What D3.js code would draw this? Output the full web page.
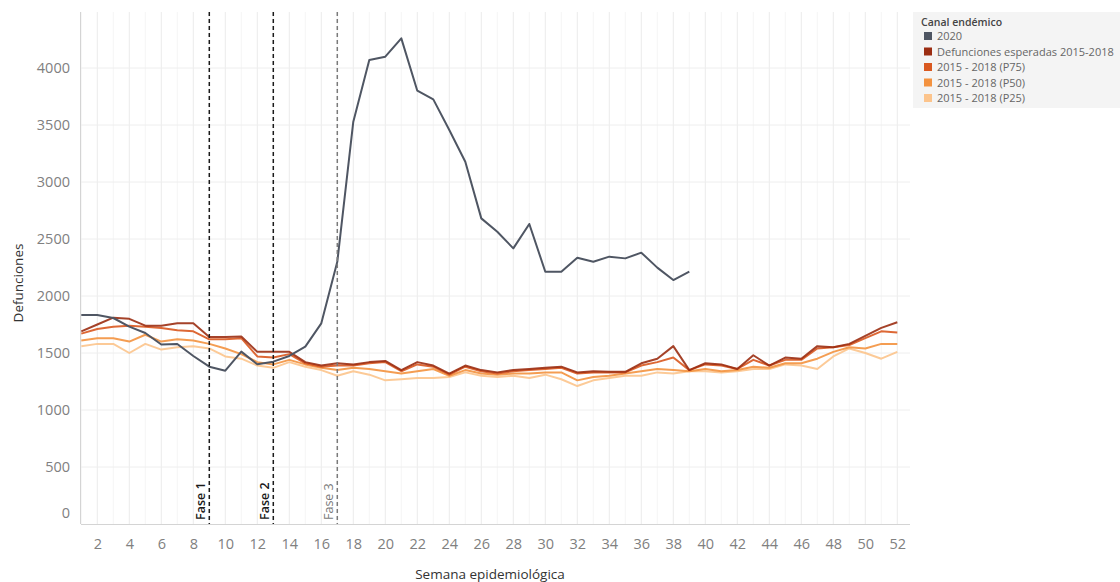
<!DOCTYPE html>
<html>
<head>
<meta charset="utf-8">
<script src="https://cdn.jsdelivr.net/npm/d3@7"></script>
<style>
  body { margin: 0; background: #fff; }
  svg { font-family: "Open Sans", "Noto Sans", sans-serif; }
  .grid-lines line { stroke: #eeeeee; stroke-width: 1; }
</style>
</head>
<body>
<div id="chart"></div>
<script>
// weeks 1..52
const weeks = d3.range(1, 53)
const xTicks = d3.range(2, 53, 2)
const yTicks = [0, 500, 1000, 1500, 2000, 2500, 3000, 3500, 4000]

const deaths2020 = [1833, 1833, 1807, 1731, 1675, 1575, 1579, 1474, 1380, 1345,
  1512, 1401, 1424, 1474, 1556, 1760, 2300, 3529, 4070, 4099,
  4260, 3801, 3725, 3456, 3178, 2681, 2564, 2418, 2632, 2213,
  2213, 2336, 2301, 2345, 2330, 2380, 2249, 2140, 2213]

const esperadas = [1690, 1750, 1810, 1800, 1740, 1740, 1760, 1760, 1640, 1640,
  1645, 1510, 1510, 1510, 1420, 1390, 1410, 1400, 1420, 1430,
  1350, 1420, 1390, 1320, 1390, 1350, 1330, 1350, 1360, 1370,
  1380, 1330, 1340, 1335, 1335, 1410, 1450, 1560, 1350, 1410,
  1400, 1360, 1480, 1390, 1460, 1450, 1560, 1550, 1580, 1650,
  1720, 1770]

const p75 = [1670, 1710, 1730, 1740, 1730, 1720, 1700, 1690, 1620, 1620,
  1630, 1470, 1460, 1490, 1410, 1380, 1390, 1390, 1410, 1420,
  1340, 1400, 1380, 1310, 1380, 1340, 1320, 1340, 1350, 1360,
  1370, 1320, 1330, 1330, 1330, 1390, 1420, 1460, 1350, 1400,
  1390, 1360, 1440, 1390, 1440, 1440, 1540, 1550, 1570, 1630,
  1690, 1680]

const p50 = [1610, 1630, 1630, 1600, 1660, 1600, 1620, 1610, 1580, 1540,
  1490, 1420, 1400, 1440, 1400, 1370, 1350, 1370, 1360, 1340,
  1320, 1340, 1360, 1300, 1350, 1320, 1310, 1320, 1320, 1330,
  1330, 1260, 1290, 1300, 1320, 1340, 1360, 1350, 1340, 1360,
  1340, 1350, 1380, 1370, 1410, 1410, 1450, 1510, 1550, 1540,
  1580, 1580]

const p25 = [1560, 1580, 1580, 1500, 1580, 1530, 1550, 1560, 1540, 1470,
  1450, 1390, 1370, 1420, 1380, 1350, 1300, 1340, 1310, 1260,
  1270, 1280, 1280, 1290, 1330, 1300, 1290, 1300, 1280, 1310,
  1270, 1210, 1260, 1280, 1300, 1300, 1330, 1320, 1340, 1340,
  1330, 1340, 1360, 1360, 1400, 1390, 1360, 1470, 1540, 1500,
  1450, 1510]

const phaseWeeks = [9, 13, 17]
const phaseLabels = ['Fase 1', 'Fase 2', 'Fase 3']

const legendTitle = 'Canal endémico'
const seriesNames = ['2020', 'Defunciones esperadas 2015-2018', '2015 - 2018 (P75)', '2015 - 2018 (P50)', '2015 - 2018 (P25)']

function EndemicChart(div) {
    const width = 1120
    const height = 582
    const plot = { left: 81, right: 910, top: 12, bottom: 524 }

    const svg = d3.select('#' + div).append('svg')
        .attr('width', width)
        .attr('height', height)

    const color = ['#4f5663', '#9b2d12', '#d9581f', '#f3923f', '#fcc48c']
    const phaseColor = ['#1a1a1a', '#1a1a1a', '#7a7a7a']

    const xScale = d3.scaleLinear().domain([1, 52]).range([81.3, 897.3])
    const yScale = d3.scaleLinear().domain([0, 4000]).range([plot.bottom, 68])

    // grid
    svg.append('g').attr('class', 'grid-lines')
        .selectAll('line').data(weeks).join('line')
        .attr('x1', d => xScale(d)).attr('x2', d => xScale(d))
        .attr('y1', plot.top).attr('y2', plot.bottom)
        .style('stroke', d => d % 2 == 0 ? '#ebebeb' : '#f5f5f5')

    svg.append('g').attr('class', 'grid-lines')
        .selectAll('line').data(yTicks.slice(1)).join('line')
        .attr('x1', plot.left).attr('x2', plot.right)
        .attr('y1', d => yScale(d)).attr('y2', d => yScale(d))

    // axes
    const xAxis = svg.append('g')
        .attr('transform', 'translate(0,' + plot.bottom + ')')
        .call(d3.axisBottom(xScale).tickValues(xTicks).tickSize(0).tickPadding(15))
    xAxis.select('.domain').attr('d', 'M' + plot.left + ',0.5H' + plot.right).attr('stroke', '#d4d4d4')
    xAxis.selectAll('text').attr('font-size', 14.5).attr('fill', '#808080').attr('font-family', '"Open Sans", sans-serif')

    const yAxis = svg.append('g')
        .attr('transform', 'translate(' + plot.left + ',0)')
        .call(d3.axisLeft(yScale).tickValues(yTicks).tickSize(0).tickPadding(11).tickFormat(d3.format('d')))
    yAxis.select('.domain').attr('d', 'M-0.5,' + plot.top + 'V' + plot.bottom).attr('stroke', '#d4d4d4')
    yAxis.selectAll('text').attr('font-size', 14.5).attr('fill', '#808080').attr('font-family', '"Open Sans", sans-serif')
    // Tableau pushes the zero label up inside the axis
    yAxis.selectAll('.tick').filter(d => d == 0).select('text').attr('dy', '-0.45em')

    svg.append('text')
        .attr('transform', 'translate(23,' + 283 + ') rotate(-90)')
        .attr('text-anchor', 'middle')
        .attr('font-size', 13.5).attr('fill', '#333')
        .text('Defunciones')

    svg.append('text')
        .attr('x', 490).attr('y', 579)
        .attr('text-anchor', 'middle')
        .attr('font-size', 13.5).attr('fill', '#333')
        .text('Semana epidemiológica')

    // lines, lightest first so darker ones stay on top
    const series = [
        { name: seriesNames[4], values: p25, c: color[4] },
        { name: seriesNames[3], values: p50, c: color[3] },
        { name: seriesNames[2], values: p75, c: color[2] },
        { name: seriesNames[1], values: esperadas, c: color[1] },
        { name: seriesNames[0], values: deaths2020, c: color[0] }
    ]
    const lineFun = d3.line().x((d, i) => xScale(i + 1)).y(d => yScale(d))
    series.forEach(s => {
        svg.append('path')
            .datum(s.values)
            .attr('d', lineFun)
            .attr('fill', 'none')
            .attr('stroke', s.c)
            .attr('stroke-width', 2)
            .attr('stroke-linejoin', 'round')
            .attr('opacity', s.name == '2020' ? 1 : 0.9)
    })

    // phase markers
    phaseWeeks.forEach((w, i) => {
        svg.append('line')
            .attr('x1', xScale(w)).attr('x2', xScale(w))
            .attr('y1', plot.top).attr('y2', plot.bottom)
            .attr('stroke', phaseColor[i])
            .attr('stroke-width', 1.5)
            .attr('stroke-dasharray', '4,3')
        svg.append('text')
            .attr('transform', 'translate(' + (xScale(w) - 4) + ',' + (plot.bottom - 4) + ') rotate(-90)')
            .attr('font-size', 12.5)
            .attr('fill', phaseColor[i])
            .attr('font-weight', i < 2 ? 600 : 400)
            .text(phaseLabels[i])
    })

    // legend
    const legend = svg.append('g').attr('transform', 'translate(913,12)')
    legend.append('rect').attr('width', 207).attr('height', 96).attr('fill', '#f4f4f4')
    legend.append('text').attr('x', 8).attr('y', 14).attr('font-size', 10.5).attr('font-weight', 600).attr('fill', '#444').text(legendTitle)
    const items = legend.selectAll('g.item').data(seriesNames).join('g')
        .attr('class', 'item')
        .attr('transform', (d, i) => 'translate(11,' + (20 + i * 15.5) + ')')
    items.append('rect').attr('width', 8).attr('height', 8).attr('fill', (d, i) => color[i])
    items.append('text').attr('x', 13).attr('y', 8).attr('font-size', 11).attr('fill', '#666').text(d => d)
}

EndemicChart('chart')
</script>
</body>
</html>
